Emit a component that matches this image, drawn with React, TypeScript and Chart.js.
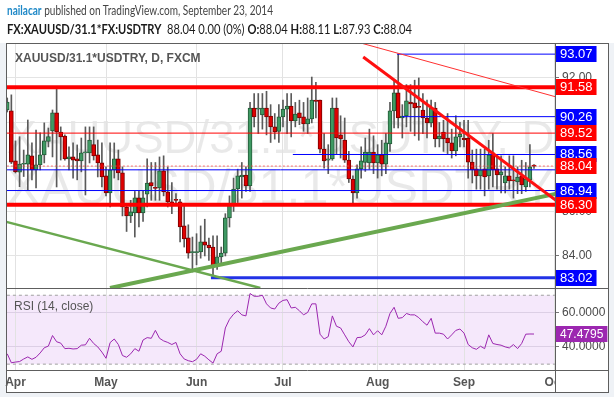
import React, { useEffect, useRef } from 'react';
import { Chart, registerables } from 'chart.js';

Chart.register(...registerables);

// ---------- text ----------
const symbol = 'XAUUSD/31.1*USDTRY';
const interval = 'D';
const exchange = 'FXCM';
const author = 'nailacar';
const publishedText = ' published on TradingView.com, September 23, 2014';
const headerSymbol = 'FX:XAUUSD/31.1*FX:USDTRY';
const headerChange = '0.00 (0%)';
const rsiTitle = 'RSI (14, close)';

// ---------- daily bars (index 0 = 1 Apr 2014) ----------
const firstIndex = -2;
const opens = [
  90.56, 90.52, 88.27, 87.76, 88.12, 88.13, 88.50, 87.87, 88.09, 88.54,
  89.15, 89.62, 90.43, 89.57, 89.39, 88.36, 88.45, 88.36, 88.27, 88.63,
  88.63, 89.00, 88.54, 88.18, 87.60, 86.83, 87.87, 88.36, 87.73, 86.20,
  85.80, 85.93, 86.61, 85.93, 86.78, 87.30, 87.08, 87.06, 87.82, 86.88,
  86.43, 86.55, 86.43, 85.35, 84.81, 84.15, 84.15, 84.18, 84.63, 84.49,
  84.40, 83.64, 83.96, 84.13, 85.71, 86.29, 87.01, 87.55, 87.64, 87.15,
  90.65, 90.60, 90.34, 90.65, 90.29, 89.80, 89.60, 90.25, 90.60, 90.74,
  90.07, 90.43, 90.25, 89.93, 90.16, 91.00, 91.01, 88.80, 88.30, 88.36,
  90.65, 89.44, 89.21, 88.31, 87.46, 86.83, 87.91, 88.20, 88.18, 88.67,
  88.18, 88.54, 88.13, 89.03, 90.52, 91.33, 90.20, 90.29, 90.92, 90.88,
  90.70, 90.56, 90.20, 89.98, 90.65, 89.26, 89.57, 89.30, 89.08, 88.72,
  89.35, 89.30, 89.30, 88.22, 87.91, 87.60, 87.91, 87.60, 88.63, 87.91,
  87.64, 87.28, 87.60, 87.42, 87.33, 87.60, 87.10, 87.42, 88.04,
];
const highs = [
  91.10, 91.24, 89.17, 89.36, 88.76, 90.11, 89.08, 89.66, 89.53, 89.98,
  89.75, 90.56, 91.55, 89.80, 89.44, 88.90, 89.08, 88.99, 89.30, 89.80,
  89.80, 89.80, 89.21, 89.08, 88.00, 89.08, 89.08, 88.76, 88.00, 86.30,
  86.50, 86.90, 86.90, 86.90, 88.36, 88.20, 88.20, 88.45, 88.50, 88.00,
  87.30, 86.80, 86.55, 86.30, 85.40, 84.85, 85.00, 85.35, 85.65, 84.80,
  84.90, 84.90, 84.40, 85.90, 86.70, 87.50, 87.90, 88.20, 88.00, 90.90,
  91.30, 91.30, 91.30, 91.40, 90.80, 90.40, 90.80, 91.00, 91.30, 91.30,
  90.90, 91.00, 90.90, 91.10, 92.04, 91.80, 91.01, 89.50, 89.00, 91.10,
  91.10, 90.30, 90.20, 88.70, 87.60, 88.10, 88.90, 89.30, 89.70, 89.40,
  89.00, 89.20, 89.50, 90.90, 91.90, 93.07, 90.80, 91.70, 91.70, 91.90,
  92.00, 91.30, 91.00, 91.00, 90.90, 90.00, 90.10, 90.40, 89.70, 90.30,
  90.00, 90.10, 90.10, 88.76, 88.80, 88.80, 88.80, 89.20, 89.50, 88.50,
  88.50, 88.00, 88.50, 88.50, 88.00, 88.30, 88.20, 89.00, 88.11,
];
const lows = [
  90.47, 88.15, 87.73, 87.11, 87.57, 86.97, 87.42, 87.06, 87.87, 88.18,
  88.90, 88.45, 87.10, 88.31, 88.31, 87.87, 87.50, 87.42, 87.78, 86.74,
  88.18, 88.31, 87.55, 87.10, 86.70, 86.20, 87.50, 87.42, 85.80, 85.10,
  85.50, 84.85, 85.30, 85.55, 86.20, 86.50, 86.50, 86.50, 86.70, 86.20,
  85.90, 86.30, 84.63, 84.40, 83.90, 83.28, 83.60, 83.90, 84.00, 83.80,
  83.02, 83.40, 83.70, 84.00, 85.30, 86.00, 86.40, 86.60, 86.90, 86.90,
  89.80, 89.50, 89.70, 89.44, 89.10, 89.25, 89.10, 89.80, 89.50, 89.35,
  89.80, 89.90, 89.60, 89.50, 89.98, 90.20, 88.63, 87.95, 87.70, 88.30,
  88.60, 88.40, 88.20, 87.30, 86.38, 86.60, 87.50, 87.80, 87.90, 87.70,
  87.50, 87.60, 87.70, 88.70, 89.75, 89.75, 89.30, 89.80, 89.60, 89.40,
  89.20, 89.50, 89.30, 89.80, 88.90, 88.90, 88.70, 88.60, 88.40, 88.50,
  88.90, 88.90, 87.50, 87.28, 87.00, 87.00, 86.70, 87.00, 87.10, 87.00,
  86.83, 86.83, 87.00, 86.60, 86.80, 86.80, 86.90, 87.10, 87.93,
];
const closes = [
  90.92, 88.22, 87.78, 88.13, 88.15, 88.54, 87.87, 88.09, 88.54, 89.17,
  89.37, 90.43, 89.57, 89.35, 88.36, 88.45, 88.31, 88.27, 88.63, 88.67,
  89.21, 88.50, 88.18, 87.55, 86.83, 87.87, 88.36, 87.73, 86.20, 85.80,
  85.98, 86.61, 85.93, 86.61, 87.28, 87.15, 87.04, 87.82, 86.88, 86.43,
  86.25, 86.50, 85.30, 84.76, 84.13, 84.18, 84.16, 84.63, 84.49, 84.36,
  83.51, 83.96, 84.13, 85.71, 86.29, 87.01, 87.60, 87.64, 87.15, 90.65,
  90.25, 90.65, 90.65, 90.25, 89.80, 89.57, 90.25, 90.60, 90.74, 90.07,
  90.38, 90.20, 89.93, 90.16, 91.01, 90.95, 88.80, 88.27, 88.36, 90.65,
  89.30, 89.26, 88.31, 87.46, 86.83, 87.91, 88.27, 88.67, 88.67, 88.18,
  88.54, 88.13, 89.08, 90.52, 91.33, 90.20, 90.29, 90.97, 90.83, 90.65,
  90.68, 90.20, 89.98, 90.65, 89.26, 89.39, 89.26, 89.08, 88.72, 89.35,
  89.48, 89.21, 88.22, 87.87, 87.60, 87.87, 87.55, 88.54, 87.87, 87.64,
  87.78, 87.60, 87.37, 87.37, 87.55, 87.19, 87.46, 88.00, 88.04,
];
const rsiValues = [
  36, 30.8, 31.2, 31.5, 33, 34.2, 32.8, 34, 36.5, 39.5,
  40.5, 46.6, 43, 42.2, 39, 39.2, 38.8, 39, 41, 41.2,
  45, 42, 40, 37, 33.4, 42.5, 44.6, 41.4, 35, 34,
  36, 39, 37.5, 44, 45.4, 45, 49.6, 45, 43.5, 42.6,
  41.4, 42.6, 36, 33, 32, 31.4, 32.8, 36, 34.6, 32.5,
  30.6, 36, 37.5, 51, 56, 59, 61, 58.6, 58, 71,
  69.4, 69.4, 70, 65, 62.6, 62, 65.4, 67, 67.4, 62.6,
  63, 61, 58.6, 60, 65, 65, 47.4, 44.6, 46, 58,
  52, 51, 47, 43, 40, 45.4, 45.6, 47, 50.6, 47,
  49.4, 47, 52, 59.4, 63, 56.6, 57, 59.4, 58.6, 58.6,
  57, 54.6, 52.6, 56.6, 48, 48, 47.4, 44.6, 47, 49.6,
  50.4, 48, 41.4, 39.5, 38.6, 40.4, 39, 47, 42, 41.4,
  41, 40, 39.4, 41.4, 39, 42, 47.4, 47.5, 47.4795,
];

// ---------- axes ----------
const monthTicks = [0, 22, 44, 65, 88, 109, 131];
const monthLabels = ['Apr', 'May', 'Jun', 'Jul', 'Aug', 'Sep', 'Oct'];
const priceTicks = [84, 86, 88, 90, 92];
const rsiTicks = [40, 60];
const rsiBand = [30, 70];
const priceRange = [82.56, 93.57];
const rsiRange = [26.6, 74.2];
const indexRange = [-2.3, 131.1];

// ---------- drawn levels ----------
const redLevels = [91.58, 89.52, 86.3];
const redWidths = [4, 1, 4];
const blueLevels = [93.07, 90.26, 88.56, 87.87, 86.94, 83.02];
const blueStarts = [92.7, 93.9, 67.4, -3, -3, 47.5];
const blueWidths = [1, 1, 1, 1, 1, 3];
const blueLabelled = [true, true, true, false, true, true];
const trendFromX = [84.5, 84.3, 22.97, -2.2];
const trendFromY = [92.94, 93.55, 82.56, 85.53];
const trendToX = [131.5, 131.5, 131.5, 59.5];
const trendToY = [86.48, 91.14, 86.8, 82.56];
const trendColors = ['#ff1010', '#ff3030', '#6aa84f', '#6aa84f'];
const trendWidths = [3, 1, 4, 2.5];

const last = closes.length - 1;
const lastClose = closes[last];

const UP_FILL = '#3f9a63';
const UP_LINE = '#245a38';
const DN_FILL = '#e00000';
const DN_LINE = '#7a0000';
const BLUE = '#0000ff';
const RED = '#ff0000';
const PURPLE = '#9c27b0';
const FONT = '"Liberation Sans", Arial, sans-serif';

function box(ctx: CanvasRenderingContext2D, x: number, y: number, text: string, bg: string, size: number, h: number) {
  ctx.font = `${size}px ${FONT}`;
  const w = ctx.measureText(text).width + 8;
  const yy = Math.round(y);
  ctx.fillStyle = bg;
  ctx.fillRect(x, yy - h / 2, w, h);
  ctx.fillStyle = '#ffffff';
  ctx.textAlign = 'left';
  ctx.textBaseline = 'middle';
  ctx.fillText(text, x + 4, yy + 0.5);
}

const paintPlugin = {
  id: 'paint',
  beforeDraw(chart: any) {
    const ctx: CanvasRenderingContext2D = chart.ctx;
    const a = chart.chartArea;
    const ys = chart.scales.y;
    const yr = chart.scales.yRsi;
    const xs = chart.scales.x;
    ctx.save();
    ctx.fillStyle = '#eff2f6';
    ctx.fillRect(0, 0, chart.width, chart.height);
    ctx.fillStyle = '#ffffff';
    ctx.fillRect(0, 0, chart.width, a.top);
    ctx.fillRect(a.left, a.top, ys.right - a.left, xs.bottom - a.top);
    // RSI band
    const t = yr.getPixelForValue(rsiBand[1]);
    const b = yr.getPixelForValue(rsiBand[0]);
    ctx.fillStyle = '#f5e8fb';
    ctx.fillRect(a.left, t, a.right - a.left, b - t);
    // watermark
    ctx.beginPath();
    ctx.rect(a.left, ys.top, a.right - a.left, ys.bottom - ys.top);
    ctx.clip();
    ctx.fillStyle = 'rgba(0,0,0,0.085)';
    ctx.textAlign = 'center';
    ctx.textBaseline = 'alphabetic';
    const cx = (a.left + a.right) / 2;
    const lines = [`${symbol}, ${interval}`, symbol];
    const base = [110, 161];
    lines.forEach((txt, k) => {
      ctx.font = `100px ${FONT}`;
      const w100 = ctx.measureText(txt).width;
      const fs = (548 / w100) * 100;
      ctx.font = `${fs}px ${FONT}`;
      ctx.fillText(txt, cx, ys.top + base[k]);
    });
    ctx.restore();
  },
  afterDraw(chart: any) {
    const ctx: CanvasRenderingContext2D = chart.ctx;
    const a = chart.chartArea;
    const ys = chart.scales.y;
    const yr = chart.scales.yRsi;
    const xs = chart.scales.x;
    const right = ys.right;
    ctx.save();
    // cover x labels spilling into the price column
    ctx.fillStyle = '#ffffff';
    ctx.fillRect(a.right + 1, xs.top + 1, right - a.right - 1, xs.bottom - xs.top - 1);
    // legends
    ctx.fillStyle = '#555555';
    ctx.textAlign = 'left';
    ctx.textBaseline = 'middle';
    ctx.font = `bold 12px ${FONT}`;
    ctx.fillText(`${symbol}, ${interval}, ${exchange}`, a.left + 9, ys.top + 16);
    ctx.font = `12px ${FONT}`;
    ctx.fillText(rsiTitle, a.left + 8, yr.top + 19);
    // price labels
    const lx = a.right + 1;
    blueLevels.forEach((v, k) => {
      if (blueLabelled[k]) box(ctx, lx, ys.getPixelForValue(v), v.toFixed(2), BLUE, 13, 16);
    });
    redLevels.forEach((v) => box(ctx, lx, ys.getPixelForValue(v), v.toFixed(2), RED, 13, 16));
    box(ctx, lx, ys.getPixelForValue(lastClose), lastClose.toFixed(2), RED, 13, 16);
    box(ctx, lx, yr.getPixelForValue(rsiValues[last]), rsiValues[last].toFixed(4), PURPLE, 12, 16);
    // frame
    ctx.strokeStyle = '#5e5e5e';
    ctx.lineWidth = 1;
    const L = Math.round(a.left) + 0.5;
    const R = Math.round(right) + 0.5;
    const T = Math.round(a.top) + 0.5;
    const B = Math.round(xs.bottom) + 0.5;
    ctx.strokeRect(L, T, R - L, B - T);
    ctx.beginPath();
    const ax = Math.round(a.right) + 0.5;
    ctx.moveTo(ax, T); ctx.lineTo(ax, B);
    const py = Math.round(ys.bottom) + 0.5;
    ctx.moveTo(L, py); ctx.lineTo(R, py);
    const xy = Math.round(xs.top) + 0.5;
    ctx.moveTo(L, xy); ctx.lineTo(R, xy);
    ctx.stroke();
    ctx.restore();
  },
};

function hLine(y: number, start: number, color: string, width: number, axis = 'y', dash: number[] = [], order = 0) {
  return {
    type: 'line',
    data: [{ x: start, y }, { x: 140, y }],
    borderColor: color,
    borderWidth: width,
    borderDash: dash,
    pointRadius: 0,
    fill: false,
    yAxisID: axis,
    order,
  };
}

export default function App() {
  const canvasRef = useRef<HTMLCanvasElement>(null);
  const h1Ref = useRef<HTMLDivElement>(null);
  const h2Ref = useRef<HTMLDivElement>(null);

  useEffect(() => {
    const fits: [React.RefObject<HTMLDivElement>, number][] = [[h1Ref, 266], [h2Ref, 405]];
    fits.forEach(([r, target]) => {
      const el = r.current;
      if (!el) return;
      el.style.transform = '';
      const w = el.getBoundingClientRect().width;
      if (w > 0) el.style.transform = `scaleX(${target / w})`;
    });

    const xs = opens.map((_, k) => firstIndex + k);
    const isUp = (k: number) => closes[k] > opens[k];

    const datasets: any[] = [];
    trendFromX.forEach((_, k) => {
      datasets.push({
        type: 'line',
        data: [{ x: trendFromX[k], y: trendFromY[k] }, { x: trendToX[k], y: trendToY[k] }],
        borderColor: trendColors[k],
        borderWidth: trendWidths[k],
        pointRadius: 0,
        fill: false,
        yAxisID: 'y',
        order: 0,
      });
    });
    redLevels.forEach((v, k) => datasets.push(hLine(v, -5, RED, redWidths[k])));
    blueLevels.forEach((v, k) => datasets.push(hLine(v, blueStarts[k], k === 5 ? '#2233e6' : BLUE, blueWidths[k], 'y', [], 1)));
    datasets.push(hLine(lastClose, -5, 'rgba(255,70,70,0.75)', 1, 'y', [2, 2], 1));
    rsiBand.forEach((v) => datasets.push(hLine(v, -5, '#a0a0a0', 1, 'yRsi', [3, 3], 5)));
    datasets.push({
      type: 'line',
      data: rsiValues.map((v, k) => ({ x: xs[k], y: v })),
      borderColor: PURPLE,
      borderWidth: 1,
      pointRadius: 0,
      fill: false,
      tension: 0,
      yAxisID: 'yRsi',
      order: 1,
    });
    datasets.push({
      type: 'bar',
      data: opens.map((o, k) => ({ x: xs[k], y: [o, closes[k]] })),
      backgroundColor: opens.map((_, k) => (isUp(k) ? UP_FILL : DN_FILL)),
      borderColor: opens.map((_, k) => (isUp(k) ? UP_LINE : DN_LINE)),
      borderWidth: 1,
      borderSkipped: false,
      barThickness: 4,
      minBarLength: 1,
      grouped: false,
      yAxisID: 'y',
      order: 2,
    });
    datasets.push({
      type: 'bar',
      data: lows.map((l, k) => ({ x: xs[k], y: [l, highs[k]] })),
      backgroundColor: '#5a5a5a',
      borderWidth: 0,
      barThickness: 1,
      grouped: false,
      yAxisID: 'y',
      order: 3,
    });

    const chart = new Chart(canvasRef.current as HTMLCanvasElement, {
      type: 'bar',
      data: { datasets },
      options: {
        responsive: false,
        animation: false,
        devicePixelRatio: 1,
        events: [],
        layout: { padding: { left: 6, right: 6, top: 43, bottom: 5 } },
        plugins: { legend: { display: false }, tooltip: { enabled: false }, title: { display: false } },
        scales: {
          x: {
            type: 'linear',
            min: indexRange[0],
            max: indexRange[1],
            offset: false,
            afterBuildTicks: (s: any) => { s.ticks = monthTicks.map((v) => ({ value: v })); },
            afterFit: (s: any) => { s.height = 22; },
            grid: { color: '#e2e2e2', drawTicks: false, offset: false },
            border: { display: false },
            ticks: {
              autoSkip: false,
              maxRotation: 0,
              padding: 5,
              color: '#555555',
              font: { family: FONT, size: 12, weight: 'bold' },
              callback: (v: any) => { const k = monthTicks.indexOf(Number(v)); return k >= 0 ? monthLabels[k] : ''; },
            },
          },
          y: {
            type: 'linear',
            position: 'right',
            stack: 'panes',
            stackWeight: 245,
            min: priceRange[0],
            max: priceRange[1],
            afterBuildTicks: (s: any) => { s.ticks = priceTicks.map((v) => ({ value: v })); },
            afterFit: (s: any) => { s.width = 53; },
            grid: { color: '#e4e4e4', tickLength: 4, tickColor: '#777777' },
            border: { display: false },
            ticks: {
              padding: 3,
              color: '#4a4a4a',
              font: { family: FONT, size: 12 },
              callback: (v: any) => Number(v).toFixed(2),
            },
          },
          yRsi: {
            type: 'linear',
            position: 'right',
            stack: 'panes',
            stackWeight: 82,
            min: rsiRange[0],
            max: rsiRange[1],
            afterBuildTicks: (s: any) => { s.ticks = rsiTicks.map((v) => ({ value: v })); },
            afterFit: (s: any) => { s.width = 53; },
            grid: { color: '#dccfe5', tickLength: 4, tickColor: '#777777' },
            border: { display: false },
            ticks: {
              padding: 3,
              color: '#4a4a4a',
              font: { family: FONT, size: 12 },
              callback: (v: any) => Number(v).toFixed(4),
            },
          },
        },
      } as any,
      plugins: [paintPlugin],
    } as any);
    return () => chart.destroy();
  }, []);

  const bold = { fontWeight: 'bold' as const };
  return (
    <div style={{ position: 'absolute', left: 0, top: 0, width: 614, height: 397, overflow: 'hidden', background: '#eff2f6' }}>
      <canvas ref={canvasRef} width={614} height={397} style={{ position: 'absolute', left: 0, top: 0, width: 614, height: 397 }} />
      <div
        ref={h1Ref}
        style={{ position: 'absolute', left: 7, top: 2, whiteSpace: 'nowrap', transformOrigin: '0 50%', font: '14px Lato, "Open Sans", sans-serif', lineHeight: '16px', color: '#444444' }}
      >
        <span style={{ color: '#1e88c7', fontWeight: 'bold' }}>{author}</span>
        {publishedText}
      </div>
      <div
        ref={h2Ref}
        style={{ position: 'absolute', left: 7, top: 21, whiteSpace: 'pre', transformOrigin: '0 50%', font: '14px Lato, "Open Sans", sans-serif', lineHeight: '16px', color: '#1a1a1a' }}
      >
        <span style={bold}>{headerSymbol}</span>
        {`  ${lastClose.toFixed(2)} ${headerChange} `}
        <span style={bold}>O:</span>{`${opens[last].toFixed(2)} `}
        <span style={bold}>H:</span>{`${highs[last].toFixed(2)} `}
        <span style={bold}>L:</span>{`${lows[last].toFixed(2)} `}
        <span style={bold}>C:</span>{`${closes[last].toFixed(2)}`}
      </div>
    </div>
  );
}
